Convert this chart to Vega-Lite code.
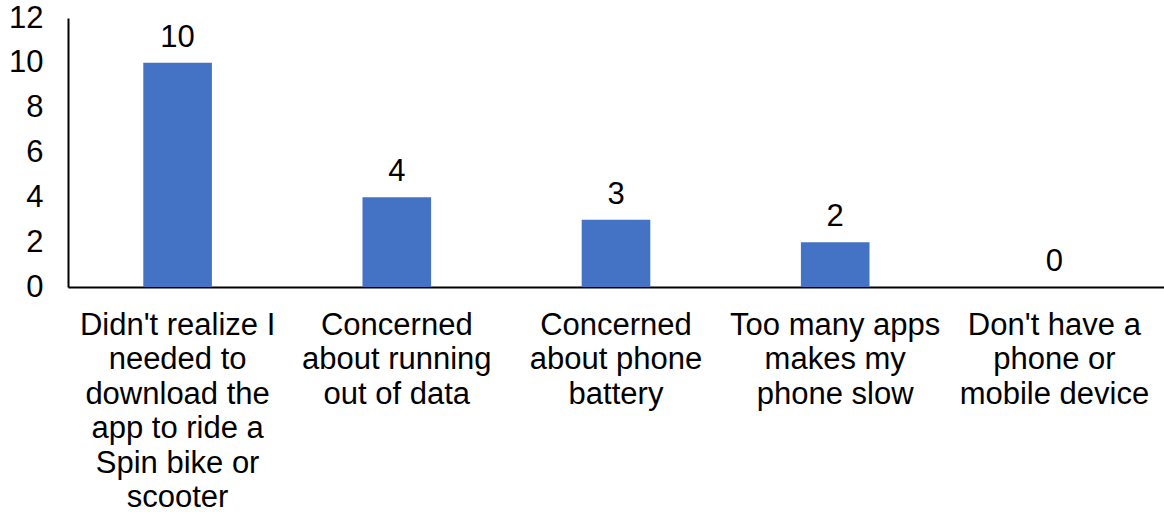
{
  "$schema": "https://vega.github.io/schema/vega-lite/v6.json",
  "autosize": "none",
  "width": 1096,
  "height": 269,
  "padding": {"left": 68, "top": 18, "right": 0, "bottom": 227},
  "background": "white",
  "config": {
    "view": {"stroke": null},
    "font": "Liberation Sans",
    "axis": {
      "labelFont": "Liberation Sans",
      "labelColor": "#000000",
      "domainColor": "#000000",
      "domainWidth": 2,
      "ticks": false,
      "grid": false,
      "title": null
    }
  },
  "data": {
    "values": [
      {"reason": "Didn't realize I|needed to|download the|app to ride a|Spin bike or|scooter", "count": 10},
      {"reason": "Concerned|about running|out of data", "count": 4},
      {"reason": "Concerned|about phone|battery", "count": 3},
      {"reason": "Too many apps|makes my|phone slow", "count": 2},
      {"reason": "Don't have a|phone or|mobile device", "count": 0}
    ]
  },
  "encoding": {
    "x": {
      "field": "reason",
      "type": "nominal",
      "sort": null,
      "scale": {"paddingInner": 0.687, "paddingOuter": 0.3435},
      "axis": {
        "labelAngle": 0,
        "labelFontSize": 31,
        "labelLineHeight": 34.5,
        "labelPadding": 23,
        "labelBaseline": "top",
        "labelLimit": 0,
        "labelExpr": "split(datum.label, '|')"
      }
    },
    "y": {
      "field": "count",
      "type": "quantitative",
      "scale": {"domain": [0, 12], "nice": false},
      "axis": {
        "values": [0, 2, 4, 6, 8, 10, 12],
        "labelFontSize": 31,
        "labelPadding": 25
      }
    }
  },
  "layer": [
    {"mark": {"type": "bar", "color": "#4472C4"}},
    {
      "mark": {"type": "text", "fontSize": 31, "color": "#000000", "baseline": "alphabetic", "dy": -16},
      "encoding": {"text": {"field": "count", "type": "quantitative"}}
    }
  ]
}
